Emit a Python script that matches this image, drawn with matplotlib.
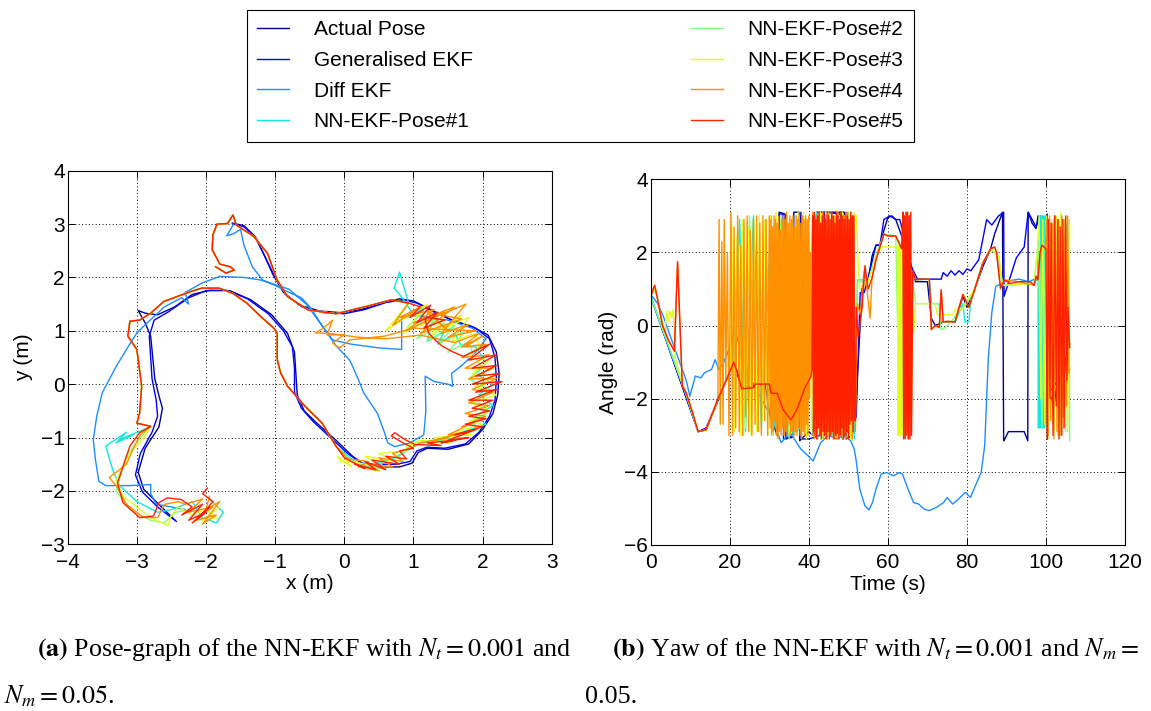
import numpy as np
import matplotlib
matplotlib.use("Agg")
import matplotlib.pyplot as plt

plt.rcParams["font.family"] = ["Liberation Sans", "DejaVu Sans"]
plt.rcParams["mathtext.fontset"] = "stix"

LABELS = ["Actual Pose", "Generalised EKF", "Diff EKF", "NN-EKF-Pose#1",
          "NN-EKF-Pose#2", "NN-EKF-Pose#3", "NN-EKF-Pose#4", "NN-EKF-Pose#5"]
COLORS = ["#000090", "#0000ff", "#1e8cff", "#10e8e0",
          "#80ff80", "#e0ff20", "#ff9000", "#ff2000"]

# ---------------- (a) pose graph, x/y in metres ----------------
ACTUAL_XY = [(-1.62, 3.02), (-1.45, 2.97), (-1.3, 2.78), (-1.17, 2.45), (-1.03, 2.05),
             (-0.88, 1.72), (-0.65, 1.48), (-0.35, 1.37), (-0.05, 1.34), (0.25, 1.4),
             (0.55, 1.52), (0.8, 1.6), (1.0, 1.56), (1.25, 1.4), (1.55, 1.2), (1.85, 1.08),
             (2.08, 0.92), (2.2, 0.6), (2.24, 0.2), (2.22, -0.2), (2.15, -0.55), (2.0, -0.85),
             (1.8, -1.12), (1.5, -1.22), (1.2, -1.2), (1.07, -1.28), (0.98, -1.48), (0.8, -1.55),
             (0.5, -1.55), (0.3, -1.52), (0.12, -1.35), (-0.12, -1.05), (-0.38, -0.75),
             (-0.58, -0.5), (-0.68, -0.2), (-0.7, 0.2), (-0.72, 0.6), (-0.82, 0.95),
             (-1.05, 1.3), (-1.35, 1.58), (-1.65, 1.75), (-1.95, 1.76), (-2.2, 1.68),
             (-2.45, 1.45), (-2.7, 1.3), (-2.88, 1.33), (-2.98, 1.38), (-2.88, 1.15),
             (-2.8, 0.9), (-2.77, 0.5), (-2.74, 0.1), (-2.68, -0.22), (-2.63, -0.45),
             (-2.68, -0.8), (-2.88, -1.2), (-2.98, -1.65), (-2.9, -1.97), (-2.66, -2.28),
             (-2.43, -2.57)]
GEN_XY = [(-1.6, 3.0), (-1.45, 2.95), (-1.28, 2.75), (-1.15, 2.4), (-1.0, 2.0), (-0.85, 1.68),
          (-0.6, 1.44), (-0.3, 1.34), (0.0, 1.32), (0.3, 1.4), (0.6, 1.53), (0.85, 1.58),
          (1.05, 1.52), (1.3, 1.35), (1.6, 1.18), (1.9, 1.05), (2.1, 0.85), (2.18, 0.5),
          (2.2, 0.1), (2.18, -0.3), (2.1, -0.6), (1.95, -0.9), (1.75, -1.12), (1.45, -1.2),
          (1.2, -1.18), (1.05, -1.25), (0.95, -1.45), (0.75, -1.5), (0.45, -1.5), (0.25, -1.48),
          (0.05, -1.3), (-0.2, -1.0), (-0.45, -0.7), (-0.62, -0.45), (-0.72, -0.15),
          (-0.72, 0.3), (-0.75, 0.7), (-0.88, 1.0), (-1.1, 1.32), (-1.4, 1.6), (-1.7, 1.76),
          (-2.0, 1.75), (-2.25, 1.62), (-2.55, 1.35), (-2.75, 1.2), (-2.82, 0.9), (-2.8, 0.5),
          (-2.78, 0.1), (-2.72, -0.3), (-2.7, -0.6), (-2.78, -0.9), (-2.95, -1.3),
          (-3.02, -1.7), (-2.92, -2.02), (-2.7, -2.3), (-2.45, -2.55)]
DIFF_XY = [(-1.6, 3.0), (-1.7, 2.78), (-1.6, 2.82), (-1.5, 2.9), (-1.45, 2.6), (-1.33, 2.2),
           (-1.18, 1.95), (-1.0, 1.85), (-0.8, 1.72), (-0.62, 1.62), (-0.48, 1.42),
           (-0.35, 1.15), (-0.12, 0.72), (0.08, 0.45), (0.2, 0.1), (0.28, -0.16), (0.48, -0.55),
           (0.58, -0.9), (0.63, -1.1), (0.73, -1.17), (0.95, -1.1), (1.15, -0.95), (1.18, -0.5),
           (1.17, 0.15), (1.3, 0.05), (1.5, 0.0), (1.57, -0.04), (1.55, 0.2), (1.7, 0.35),
           (1.9, 0.6), (2.05, 0.85), (1.85, 1.05), (1.5, 1.2), (1.1, 1.28), (0.83, 1.27),
           (0.83, 0.65), (0.5, 0.68), (0.1, 0.75), (-0.17, 0.83), (-0.35, 1.15), (-0.55, 1.5),
           (-0.8, 1.78), (-1.2, 1.95), (-1.45, 2.0), (-1.8, 2.02), (-2.05, 1.9), (-2.3, 1.72),
           (-2.25, 1.5), (-2.35, 1.62), (-2.6, 1.45), (-2.85, 1.15), (-3.0, 0.96), (-3.15, 0.65),
           (-3.3, 0.33), (-3.5, -0.16), (-3.58, -0.6), (-3.63, -1.04), (-3.6, -1.4),
           (-3.55, -1.82), (-3.45, -1.9), (-3.1, -1.9), (-2.8, -1.88), (-2.8, -2.05),
           (-2.72, -2.25), (-2.5, -2.3), (-2.3, -2.35)]

# shared NN-EKF stretches
NN_TOP = [(-1.86, 2.2), (-1.71, 2.08), (-1.59, 2.14), (-1.65, 2.2), (-1.8, 2.25), (-1.91, 2.52),
          (-1.9, 2.8), (-1.84, 3.0), (-1.69, 3.01), (-1.61, 3.17), (-1.56, 2.98), (-1.31, 2.77),
          (-1.11, 2.45), (-0.97, 1.95), (-0.82, 1.64), (-0.52, 1.39), (-0.12, 1.32),
          (0.33, 1.46), (0.68, 1.58), (0.93, 1.52)]
NN_MID = [(-0.12, -1.16), (-0.32, -0.73), (-0.57, -0.41), (-0.82, -0.04), (-0.92, 0.21),
          (-0.97, 0.46), (-0.97, 0.96), (-1.02, 1.05), (-1.21, 1.27), (-1.41, 1.52),
          (-1.61, 1.7), (-1.81, 1.8), (-2.06, 1.8), (-2.21, 1.74), (-2.36, 1.67), (-2.61, 1.55),
          (-2.8, 1.33), (-2.96, 1.2), (-3.1, 1.18), (-3.13, 0.9), (-3.0, 0.65), (-2.93, -0.04),
          (-2.96, -0.54), (-3.0, -0.73), (-2.8, -0.79)]

# NN-EKF-Pose#5 (red)
R1_5 = [(1.1, 1.45), (0.95, 1.25), (1.25, 1.48), (1.05, 1.15), (1.35, 1.35), (1.15, 1.05),
        (1.45, 1.2), (1.2, 1.25), (1.17, 1.2), (1.22, 0.96), (1.32, 0.82), (1.42, 0.71),
        (1.58, 0.6), (1.72, 0.52)]
R2_5 = [(2.1, 0.75), (1.8, 0.45), (2.2, 0.55), (1.85, 0.3), (2.2, 0.35), (1.9, 0.15), (2.25, 0.2),
        (1.85, 0.0), (2.28, 0.05), (1.9, -0.15), (2.2, -0.1), (1.8, -0.3), (2.15, -0.3),
        (1.85, -0.45), (2.1, -0.5), (1.8, -0.6), (2.05, -0.65), (1.75, -0.75), (2.0, -0.8),
        (1.6, -0.95), (1.9, -0.85), (1.5, -1.05), (1.8, -1.0), (1.4, -1.1), (1.6, -1.05),
        (1.2, -1.1), (1.4, -1.15), (1.02, -1.13), (0.88, -1.04), (0.73, -0.91), (0.68, -0.97),
        (0.85, -1.1)]
R3_5 = [(1.0, -1.2), (0.8, -1.25), (0.9, -1.4), (0.6, -1.35), (0.8, -1.5), (0.4, -1.42),
        (0.6, -1.6), (0.3, -1.45), (0.45, -1.6), (0.15, -1.5), (0.3, -1.58), (0.0, -1.38)]
LB_5 = [(-2.96, -0.91), (-3.1, -1.16), (-3.2, -1.54), (-3.28, -1.85), (-3.2, -2.22),
        (-2.96, -2.5), (-2.76, -2.47), (-2.68, -2.22), (-2.56, -2.13), (-2.36, -2.16)]
R4_5 = [(-2.2, -2.3), (-2.35, -2.45), (-2.05, -2.25), (-2.25, -2.55), (-2.0, -2.4), (-2.2, -2.6),
        (-1.95, -2.3), (-2.1, -2.5), (-1.9, -2.2), (-2.05, -2.05), (-1.98, -1.95)]

# NN-EKF-Pose#4 (orange)
R1_4 = [(0.7, 1.1), (1.1, 1.45), (0.8, 1.25), (1.3, 1.4), (0.9, 1.0), (1.45, 1.35), (1.0, 1.15),
        (1.6, 1.45), (1.1, 0.95), (1.7, 1.22), (1.2, 1.35), (1.5, 1.0), (1.3, 1.25), (1.76, 1.5),
        (1.4, 0.95), (1.8, 1.12), (1.5, 0.88), (1.9, 1.0), (1.0, 1.05), (0.58, 0.9), (0.08, 0.83),
        (-0.07, 0.68), (-0.17, 0.77), (0.0, 0.93), (-0.25, 0.92), (-0.17, 1.2), (-0.3, 1.05),
        (-0.42, 0.96), (-0.2, 0.95), (0.2, 0.88), (0.6, 0.85), (1.1, 0.92), (1.6, 0.78),
        (1.95, 0.95), (1.7, 0.7), (2.0, 0.9)]
R2_4 = [(1.75, 0.7), (2.05, 0.75), (1.7, 0.5), (2.1, 0.55), (1.75, 0.3), (2.15, 0.3), (1.8, 0.1),
        (2.2, 0.1), (1.85, -0.1), (2.15, -0.15), (1.8, -0.35), (2.1, -0.4), (1.75, -0.55),
        (2.05, -0.6), (1.7, -0.8), (1.9, -0.7), (1.5, -0.95), (1.75, -0.9), (1.3, -1.05),
        (1.5, -1.0), (1.1, -1.1), (0.95, -1.2)]
R3_4 = [(0.7, -1.3), (0.85, -1.45), (0.5, -1.38), (0.7, -1.55), (0.35, -1.5), (0.5, -1.62),
        (0.2, -1.55), (0.35, -1.45), (0.05, -1.4)]
LB_4 = [(-2.95, -0.95), (-3.05, -1.2), (-3.15, -1.5), (-3.4, -1.75), (-3.3, -1.9),
        (-3.15, -2.25), (-2.9, -2.5), (-2.7, -2.5), (-2.6, -2.25), (-2.4, -2.2)]
R4_4 = [(-2.3, -2.25), (-2.05, -2.15), (-2.25, -2.4), (-1.9, -2.3), (-2.15, -2.55),
        (-1.85, -2.45), (-2.05, -2.62), (-1.8, -2.2), (-2.0, -2.35), (-1.95, -2.1)]

# NN-EKF-Pose#3 (yellow)
R1_3 = [(0.6, 1.0), (1.0, 1.35), (0.75, 1.15), (1.2, 1.5), (0.85, 0.95), (1.35, 1.3), (1.1, 1.1),
        (1.5, 1.4), (1.25, 0.9), (1.7, 1.3), (1.45, 1.05), (1.8, 1.25), (1.55, 0.8), (1.9, 0.95)]
R2_3 = [(1.95, 0.7), (1.8, 0.5), (2.1, 0.45), (1.85, 0.2), (2.15, 0.15), (1.9, -0.05),
        (2.2, -0.2), (1.85, -0.35), (2.1, -0.5), (1.8, -0.7), (2.0, -0.75), (1.6, -0.9),
        (1.85, -0.95), (1.3, -1.0), (1.55, -1.1), (1.1, -1.05), (0.9, -1.15)]
R3_3 = [(0.9, -1.25), (0.5, -1.3), (0.75, -1.45), (0.3, -1.35), (0.55, -1.55), (0.1, -1.45),
        (-0.05, -1.45), (-0.1, -1.35), (0.1, -1.55)]
LB_3 = [(-2.9, -1.0), (-3.1, -1.3), (-3.3, -1.8), (-3.2, -2.1), (-3.0, -2.3), (-2.8, -2.5),
        (-2.55, -2.65), (-2.5, -2.45), (-2.4, -2.3)]
R4_3 = [(-2.2, -2.45), (-2.0, -2.35), (-1.85, -2.5), (-2.05, -2.55), (-1.8, -2.3)]

# NN-EKF-Pose#2 (green)
R1_2 = [(0.75, 1.2), (1.1, 1.3), (0.9, 1.05), (1.3, 1.2), (1.05, 0.85), (1.45, 1.15), (1.2, 0.8),
        (1.6, 1.1), (1.35, 0.75), (1.75, 1.0), (1.5, 0.6), (1.8, 0.8)]
R2_2 = [(1.85, 0.6), (2.0, 0.3), (1.8, 0.1), (2.1, -0.1), (1.9, -0.3), (2.1, -0.5), (1.85, -0.7),
        (1.95, -0.85), (1.6, -0.95), (1.7, -1.0), (1.3, -1.05), (1.0, -1.1)]
R3_2 = [(0.8, -1.35), (0.5, -1.45), (0.6, -1.6), (0.3, -1.5), (0.45, -1.62), (0.1, -1.45)]
LB_2 = [(-2.95, -1.0), (-3.15, -1.35), (-3.3, -2.0), (-3.1, -2.35), (-2.8, -2.55),
        (-2.6, -2.6), (-2.45, -2.4)]
R4_2 = [(-2.2, -2.35), (-2.1, -2.55), (-1.9, -2.45)]

# NN-EKF-Pose#1 (cyan)
R1_1 = [(0.8, 2.1), (0.72, 1.8), (0.85, 1.6), (1.0, 1.3), (1.15, 1.45), (1.1, 1.1), (1.3, 1.3),
        (1.2, 0.8), (1.45, 1.0), (1.35, 0.75), (1.6, 0.95), (1.7, 0.7)]
R2_1 = [(1.9, 0.7), (2.05, 0.4), (1.9, 0.2), (2.15, 0.0), (1.95, -0.2), (2.15, -0.4), (1.9, -0.6),
        (2.05, -0.75), (1.7, -0.9), (1.4, -1.05), (1.1, -1.1)]
R3_1 = [(0.7, -1.4), (0.4, -1.5), (0.55, -1.58), (0.2, -1.5)]
LB_1 = [(-2.9, -0.85), (-3.25, -1.04), (-3.05, -0.95), (-3.3, -1.1), (-3.15, -0.9),
        (-3.45, -1.16), (-3.35, -1.6), (-3.25, -1.9), (-3.0, -2.2), (-2.7, -2.4), (-2.5, -2.35)]
R4_1 = [(-2.2, -2.2), (-2.05, -2.5), (-1.85, -2.6), (-1.75, -2.4), (-1.95, -2.15)]

NN_XY = [NN_TOP + R1_1 + R2_1 + R3_1 + NN_MID + LB_1 + R4_1,
         NN_TOP + R1_2 + R2_2 + R3_2 + NN_MID + LB_2 + R4_2,
         NN_TOP + R1_3 + R2_3 + R3_3 + NN_MID + LB_3 + R4_3,
         NN_TOP + R1_4 + R2_4 + R3_4 + NN_MID + LB_4 + R4_4,
         NN_TOP + R1_5 + R2_5 + R3_5 + NN_MID + LB_5 + R4_5]

# ---------------- (b) yaw vs time ----------------
ACT_T = [0, 12, 14, 21, 22, 23, 29, 30, 32, 32.5, 34, 34.2, 36, 36.2, 37.5, 37.7, 40, 41, 42, 49,
         49.5, 51, 52, 53.5, 55, 56, 57, 58, 59, 60, 61, 62, 63, 64, 66, 67, 70, 71, 72, 74, 77,
         79, 80, 82, 84, 86, 87, 89, 89.3, 89.6, 90.5, 94.5, 95.4, 95.5, 96.5, 97.5, 98, 99,
         100.3, 100.4, 101, 102, 103, 104, 105, 106]
ACT_Y = [0.8, -2.9, -2.85, -1.0, -1.3, -1.7, -1.6, -2.4, -3.0, 3.1, 3.05, -3.1, -3.05, 3.1, 3.1,
         -3.15, -2.9, -3.0, 3.1, 3.1, -3.1, -3.0, -2.0, 1.07, 1.2, 1.9, 2.2, 2.2, 2.6, 2.95, 3.0,
         2.9, 2.6, 2.3, 1.6, 1.2, 1.2, 0.2, 0.0, 0.1, 0.1, 0.8, 0.5, 1.0, 1.6, 2.1, 2.5, 3.1,
         -3.15, -3.1, -2.9, -2.9, -3.15, 3.1, 2.8, 2.65, 3.0, 2.7, 3.05, -3.1, -1.85, -2.2, -1.5,
         -2.0, -1.0, -0.5]
GEN_T = [0, 12, 14, 21, 23, 30, 31, 32, 32.5, 33.5, 33.6, 36, 38, 38.1, 40, 43, 44, 48, 48.5, 52,
         53, 54, 55, 57, 58, 59, 60.5, 62, 63, 64, 66, 67.5, 73.5, 74, 75, 76, 77, 78, 79, 80, 81,
         83, 85, 86.3, 87, 88, 89.3, 89.4, 90, 92.5, 94.5, 95.5, 96.5, 97.5, 98.5, 99.5, 100.3,
         100.5, 101, 103, 106]
GEN_Y = [0.8, -2.9, -2.8, -1.0, -1.7, -1.6, -2.5, -3.0, 3.05, 3.05, -3.1, -3.0, 3.1, -3.1, -3.1,
         -3.0, 3.1, 3.05, -3.1, -2.5, 0.9, 0.9, 1.3, 2.2, 2.2, 2.9, 3.0, 2.9, 2.9, 2.5, 1.6, 1.27,
         1.27, 1.45, 1.35, 1.5, 1.38, 1.5, 1.4, 1.55, 1.5, 1.8, 2.9, 2.75, 2.85, 3.0, 3.1, 0.8,
         1.0, 1.85, 2.15, 3.1, 2.9, 2.7, 3.0, 2.9, 3.0, -3.0, -1.8, -1.5, -0.6]
DIFF_T = [0, 1.8, 3.2, 5, 7, 9, 9.9, 11.3, 12.7, 13.6, 15.4, 16.3, 17.2, 18.5, 20, 21.2, 23, 25,
          27, 29, 31.2, 33, 35.3, 38, 39.8, 41.1, 43, 45, 47, 49, 50.6, 51.5, 52, 52.9, 54.2,
          55.2, 56.1, 57, 58.3, 59.7, 61.5, 62.8, 63.7, 65.1, 66.5, 67.8, 69.2, 70.5, 72.3, 74.1,
          75, 76.4, 77.8, 79.6, 80.9, 82.3, 83.6, 84.5, 85.4, 86.3, 87.3, 89.5, 93.1, 95.8, 97.6,
          98.5]
DIFF_Y = [0.85, 0.6, 0.25, -0.3, -0.9, -1.5, -1.93, -1.38, -1.43, -1.29, -1.2, -0.93, -1.2, -1.0,
          -0.6, -0.06, -0.8, -1.4, -1.8, -2.2, -2.65, -3.2, -2.93, -3.38, -3.56, -3.7, -3.2, -3.0,
          -3.1, -3.0, -3.15, -3.38, -3.7, -4.47, -4.93, -5.04, -4.84, -4.47, -4.06, -4.02, -4.11,
          -4.02, -4.06, -4.47, -4.84, -4.88, -5.02, -5.06, -4.97, -4.84, -4.7, -4.88, -4.75,
          -4.56, -4.7, -4.34, -4.02, -3.29, -0.93, 0.35, 1.07, 1.2, 1.27, 1.2, 1.3, 1.25]

# NN-EKF-Pose#5 yaw (red)
RED_T = [0, 1, 1.6, 3, 4.5, 6, 6.8, 8, 9, 10.5, 12, 14, 17, 19.5, 21, 22, 23, 26, 26.5, 30, 30.5,
         32, 33.5, 35.5, 37, 39, 40.5]
RED_Y = [0.8, 1.1, 0.8, 0.0, -0.4, -0.7, 1.75, -1.65, -1.85, -2.35, -2.9, -2.85, -2.0, -1.4,
         -1.0, -1.3, -1.73, -1.7, -1.6, -1.6, -1.85, -1.85, -2.3, -2.58, -2.3, -1.7, -1.4]
RED_DENSE_T = [40.8, 41.0, 41.2, 41.4, 41.6, 41.8, 42.0, 42.2, 42.4, 42.6, 42.8, 43.0, 43.2, 43.4,
               43.6, 43.8, 44.0, 44.2, 44.4, 44.6, 44.8, 45.0, 45.2, 45.4, 45.6, 45.8, 46.0,
               46.2, 46.4, 46.6, 46.8, 47.0, 47.2, 47.4, 47.6, 47.8, 48.0, 48.2, 48.4, 48.6,
               48.8, 49.0, 49.2, 49.4, 49.6, 49.8, 50.0, 50.2, 50.4, 50.6, 50.8, 51.0, 51.2,
               51.4, 51.6]
RED_DENSE_Y = [-1.2, 3.0, -2.9, 3.1, -3.0, 2.9, -3.1, 3.0, -2.8, 3.1,
               -3.0, 2.8, -3.1, 3.0, -2.9, 3.1, -3.0, 2.9, -3.1, 3.05,
               -2.9, 3.0, -3.1, 2.9, -3.0, 3.1, -2.9, 3.0, -3.1, 2.8,
               -3.0, 3.1, -2.95, 3.0, -3.1, 2.9, -3.0, 3.1, -2.8, 3.0,
               -3.1, 2.9, -3.0, 3.1, -2.9, 3.0, -3.1, 2.9, -2.7, 3.1,
               -2.6, 3.0, -2.9, 3.0, -2.6]
RED2_T = [51.8, 52.0, 52.5, 53.5, 54.2, 55, 56, 57, 59, 60, 62, 63.5,
          63.8, 64.0, 64.2, 64.4, 64.6, 64.8, 65.0, 65.2, 65.4, 65.6, 65.8, 66.0,
          66.3, 67, 68, 70.5, 71, 72, 73, 73.5, 74, 75, 77, 78, 79, 80.5, 82, 84, 86, 87, 87.5,
          88.5, 89.5, 91, 93, 96, 97, 97.5, 98, 98.5, 99, 100,
          100.3, 100.6, 101, 101.3, 101.8, 102.2, 102.6, 103, 103.3, 103.6, 104, 104.3, 104.6,
          105, 105.3, 105.6, 106]
RED2_Y = [-2.6, 0.5, -0.3, 0.5, 1.64, 1.0, 1.3, 1.8, 2.5, 2.45, 2.45, 2.1,
          3.1, -3.1, 3.0, -3.1, 3.1, -3.0, 3.1, -3.1, 3.0, -3.1, 3.1, -3.0,
          1.5, 1.25, 1.27, 1.27, -0.11, 0.0, -0.05, 0.98, 0.1, 0.12, 0.1, 0.5, 0.85, 0.5, 1.0,
          1.7, 2.1, 2.15, 2.0, 1.03, 1.25, 1.15, 1.2, 1.2, 1.1, 1.35, 1.25, 2.0, 2.2, 2.1,
          -3.1, 2.9, -2.0, 2.8, -3.0, 3.0, -2.2, 2.9, -3.1, 2.7, -3.0, 2.9, -2.8, 3.0, -1.5, 0.5,
          -0.6]

# NN-EKF-Pose#4 yaw (orange)
ORA_T = [0, 1, 1.6, 3, 4.5, 6, 6.8, 8, 9, 10.5, 12, 14, 16.5,
         17.0, 17.3, 17.6, 18.0, 18.3, 18.6, 19.0, 19.4, 19.8, 20.3, 20.7, 21.1, 21.5, 22.0,
         22.4, 22.8, 23.2, 23.6, 24.0, 24.4, 24.8, 25.2, 25.6, 26.0, 26.4, 26.8, 27.2, 27.6,
         28.0, 28.4, 28.8, 29.2, 29.6]
ORA_Y = [0.8, 1.1, 0.8, 0.0, -0.4, -0.7, 1.7, -1.65, -1.85, -2.35, -2.9, -2.85, -2.2,
         -2.0, 2.9, -2.7, 2.3, -2.7, 2.9, -1.5, 2.0, -3.0, 3.1, -3.0, 2.7, -2.8, 3.0, -2.9, 2.2,
         -3.0, 2.9, -2.5, 3.0, -2.9, 2.6, -3.0, 2.9, -2.7, 3.0, -2.9, 2.8, -3.0, 3.0, -2.6, 2.9,
         -3.0]
ORA_DENSE_T = [30.0, 30.2, 30.4, 30.6, 30.8, 31.0, 31.2, 31.4, 31.6, 31.8, 32.0, 32.2, 32.4,
               32.6, 32.8, 33.0, 33.2, 33.4, 33.6, 33.8, 34.0, 34.2, 34.4, 34.6, 34.8, 35.0,
               35.2, 35.4, 35.6, 35.8, 36.0, 36.2, 36.4, 36.6, 36.8, 37.0, 37.2, 37.4, 37.6,
               37.8, 38.0, 38.2, 38.4, 38.6, 38.8, 39.0, 39.2, 39.4, 39.6, 39.8, 40.0, 40.2,
               40.4, 40.6]
ORA_DENSE_Y = [3.0, -2.8, 2.9, -3.0, 2.7, -2.9, 3.0, -2.6, 2.9, -3.0,
               2.8, -3.1, 3.0, -2.9, 2.6, -3.0, 2.9, -2.8, 3.0, -3.0,
               2.9, -2.9, 3.1, -3.0, 2.8, -2.7, 3.0, -3.0, 2.9, -2.9,
               3.0, -3.1, 2.7, -2.9, 3.0, -3.0, 2.9, -2.8, 3.0, -3.0,
               2.8, -3.1, 3.0, -2.9, 2.9, -3.0, 3.0, -2.7, 2.9, -3.0,
               3.0, -2.0, 2.0, -1.4]
ORA2_T = [41.0, 41.4, 41.8, 42.2, 42.6, 43.0, 43.4, 43.8, 44.2, 44.6, 45.0, 45.4, 45.8, 46.2,
          46.6, 47.0, 47.4, 47.8, 48.2, 48.6, 49.0, 49.4, 49.8, 50.2, 50.6, 51.0, 51.4,
          51.8, 52.3, 53, 54, 54.5, 55.5, 56, 57, 59, 60, 62, 63.5,
          63.9, 64.3, 64.7, 65.1, 65.5, 65.9,
          66.3, 67, 70.5, 71, 72, 73, 73.5, 74, 77, 79, 80.5, 82, 84, 86, 87, 87.5, 88.5, 89.5,
          93, 97, 97.5, 98, 98.5, 99, 99.8,
          100.2, 100.5, 100.9, 101.2, 101.6, 102.0, 102.4, 102.8, 103.2, 103.6, 104.0, 104.4,
          104.8, 105.2, 105.5, 105.8, 106]
ORA2_Y = [3.1, -3.1, 3.0, -3.1, 3.1, -3.0, 3.1, -3.1, 3.0, -3.1, 3.1, -3.0, 3.1, -3.1, 3.0,
          -3.1, 3.1, -3.0, 3.1, -3.1, 3.0, -3.1, 3.1, -3.0, 3.1, -3.1, 3.0,
          -2.9, 0.6, 0.3, 1.5, 1.2, 0.2, 1.3, 1.8, 2.5, 2.45, 2.45, 2.1,
          3.1, -3.0, 3.1, -3.1, 3.0, -3.0,
          1.5, 1.25, 1.27, -0.1, 0.0, -0.05, 0.95, 0.1, 0.1, 0.85, 0.5, 1.0, 1.7, 2.1, 2.15, 2.0,
          1.0, 1.25, 1.2, 1.1, 1.35, 1.25, 2.0, 2.2, 2.1,
          2.9, -3.0, 3.0, -2.6, 2.8, -3.1, 3.0, -2.9, 2.9, -3.0, 3.0, -2.5, 2.9, -2.2, 3.0, -1.3,
          -1.2]

# NN-EKF-Pose#3 yaw (yellow)
YEL_T = [0, 1, 1.6, 3, 3.6, 4.0, 4.4, 4.8, 5.3, 5.7, 6.2, 8, 9, 12, 14, 17, 19.5, 20.2,
         20.5, 21.2, 21.9, 22.6, 23.3, 24.0, 24.7, 25.4, 26.1, 26.8, 27.5, 28.2, 28.9, 29.6,
         30.3, 31.0, 31.7, 32.4, 33.1, 33.8, 34.5, 35.2, 35.9, 36.6, 37.3, 38.0, 38.7, 39.4,
         40.1, 40.8, 41.5, 42.2, 42.9, 43.6, 44.3, 45.0, 45.7, 46.4, 47.1, 47.8, 48.5, 49.2,
         49.9, 50.6, 51.3, 52.0,
         52.8, 55, 57, 58.5, 62.4,
         62.6, 62.75, 62.9, 63.05, 63.2, 63.35, 63.5, 63.65, 63.8, 63.95, 64.1, 64.25, 64.4,
         65, 65.8, 66.5, 67, 72, 72.5, 76.5, 77, 79, 80, 82, 84, 86, 88, 89, 97, 97.8,
         98.3, 98.7, 99.2, 99.7, 100.2, 100.8, 101.4, 102.0, 102.6, 103.2, 103.8, 104.4, 105.0,
         105.5, 106]
YEL_Y = [0.8, 1.0, 0.8, 0.0, -0.2, 0.4, 0.1, 0.4, 0.2, 0.45, -0.9, -1.6, -1.85, -2.9, -2.85,
         -2.0, -1.4, -1.1,
         2.8, -2.9, 2.5, -3.0, 2.9, -2.8, 2.7, -3.0, 2.9, -2.9, 3.0, -2.6, 2.9, -3.0, 3.0, -2.9,
         3.1, -2.8, 2.9, -3.0, 3.0, -2.9, 2.8, -3.0, 3.1, -2.9, 3.1, -3.1, 2.9, -3.0, 3.1, -2.9,
         3.1, -3.1, 3.15, -3.0, 3.1, -3.1, 3.15, -2.9, 3.1, -3.0, 3.1, -3.1, 3.1, 3.0,
         1.0, 1.2, 1.9, 2.15, 2.15,
         -3.0, 2.2, -2.9, 2.1, -3.0, 2.2, -2.8, 2.2, -3.0, 2.1, -2.6, 2.2, -1.0,
         2.0, 1.4, -0.2, 0.6, 0.6, 0.3, 0.3, 0.45, 0.45, 0.7, 1.0, 1.7, 2.1, 1.9, 1.1, 1.15, 2.0,
         3.0, -2.0, 2.9, -2.7, 3.0, -3.1, 2.9, -2.9, 3.0, -3.0, 3.1, -2.8, 3.0, -2.9, 2.8]

# NN-EKF-Pose#2 yaw (green)
GRN_T = [0, 3, 6, 9, 12, 14, 17, 19.5, 21, 22, 23.5, 25, 27, 29, 31, 33, 35, 37, 39, 41, 43, 45,
         47, 49, 51, 52.3, 53, 55, 57, 59, 62, 63, 64, 65, 66, 67, 68, 73, 73.3, 74, 76, 78, 80,
         82, 84, 86, 88, 89, 97, 98, 99, 100, 101, 102, 103, 104, 105, 105.9, 106]
GRN_Y = [0.8, -0.1, -1.0, -1.9, -2.9, -2.85, -2.0, -1.4, -1.0, 2.6, -3.0, 3.0, -2.9, 2.9, -3.0,
         3.0, -3.1, 2.8, -2.8, 3.1, -3.1, 3.1, -3.1, 3.0, -3.15, 1.2, 1.2, 1.2, 1.9, 2.5, 2.45,
         -2.9, 2.2, -2.5, 1.5, 0.6, 0.6, 0.6, -0.1, -0.1, 0.1, 0.4, 0.6, 1.0, 1.7, 2.1, 1.9, 1.1,
         1.15, 2.2, -2.8, 3.0, -2.5, 2.9, -3.0, 3.0, -2.9, 2.9, -3.15]

# NN-EKF-Pose#1 yaw (cyan)
CYA_T = [0, 3, 6, 9, 12, 14, 17, 19.5, 21, 22.5, 24, 26, 28, 30.5, 31.5, 33, 36, 39.5, 42, 46,
         50, 51.5, 52.3, 53.8, 55, 57, 59, 62, 63.5, 66, 67, 70.5, 71, 73, 73.5, 77, 79, 79.5,
         80.5, 81, 84, 86, 88, 89, 97, 97.9,
         98.0, 98.1, 98.2, 98.3, 98.4, 98.5, 98.6, 98.7, 98.8, 98.9, 99.0, 99.1, 99.2, 99.3,
         99.4, 99.5, 99.6, 99.7, 99.8, 99.9, 100.0, 101, 102, 103.5, 105, 106]
CYA_Y = [0.8, -0.1, -1.0, -1.9, -2.9, -2.85, -2.0, -1.4, -1.0, 2.9, -2.9, 3.0, -2.8, 3.0, -2.8,
         2.9, -3.0, -2.6, 3.1, -3.0, 3.1, -3.1, 1.25, 1.25, 1.2, 1.9, 2.5, 2.45, 2.1, 1.5, 1.25,
         1.27, 0.6, 0.6, 0.1, 0.1, 0.6, 0.1, 0.1, 0.7, 1.7, 2.1, 1.9, 1.1, 1.15, 1.3,
         2.2, -2.8, 2.9, -2.5, 3.0, -2.8, 2.8, -2.6, 3.0, -2.7, 2.9, -2.8, 3.0, -2.4, 2.9, -2.8,
         3.0, -2.6, 2.8, -2.7, 2.0, -2.0, 2.9, -2.5, 2.8, 1.0]

YAW_SERIES = [(ACT_T, ACT_Y), (GEN_T, GEN_Y), (DIFF_T, DIFF_Y),
              (CYA_T, CYA_Y), (GRN_T, GRN_Y), (YEL_T, YEL_Y),
              (ORA_T + ORA_DENSE_T + ORA2_T, ORA_Y + ORA_DENSE_Y + ORA2_Y),
              (RED_T + RED_DENSE_T + RED2_T, RED_Y + RED_DENSE_Y + RED2_Y)]

# ---------------- figure ----------------
W, H = 1151, 711
fig = plt.figure(figsize=(W / 100, H / 100), dpi=100)
ax1 = fig.add_axes([67.7 / W, 1 - 544.3 / H, 484.0 / W, 373.6 / H])
ax2 = fig.add_axes([650.7 / W, 1 - 545.0 / H, 474.3 / W, 365.7 / H])

lw = 1.0
handles = []
for xy, c, lab in zip([ACTUAL_XY, GEN_XY, DIFF_XY] + NN_XY, COLORS, LABELS):
    a = np.array(xy)
    h, = ax1.plot(a[:, 0], a[:, 1], color=c, lw=lw, label=lab)
    handles.append(h)
for (t, y), c in zip(YAW_SERIES, COLORS):
    ax2.plot(t, y, color=c, lw=lw)

for ax in (ax1, ax2):
    ax.grid(True, color="black", ls=(0, (1, 2.5)), lw=0.7)
    ax.tick_params(direction="in", top=True, right=True, length=5, labelsize=15,
                   width=0.7)
    ax.tick_params(axis="y", pad=2)
    ax.tick_params(axis="x", pad=6)
    for s in ax.spines.values():
        s.set_linewidth(0.8)

ax1.set_xlim(-4, 3)
ax1.set_ylim(-3, 4)
ax1.set_xticks(range(-4, 4))
ax1.set_yticks(range(-3, 5))
ax1.set_xlabel("x (m)", fontsize=15, labelpad=2)
ax1.set_ylabel("y (m)", fontsize=15, labelpad=6)

ax2.set_xlim(0, 120)
ax2.set_ylim(-6, 4)
ax2.set_xticks(range(0, 121, 20))
ax2.set_yticks(range(-6, 5, 2))
ax2.set_xlabel("Time (s)", fontsize=15, labelpad=2)
ax2.set_ylabel("Angle (rad)", fontsize=15, labelpad=4)

leg = fig.legend(handles, LABELS, ncol=2, loc="upper center",
                 bbox_to_anchor=(580.5 / W, 1 - 10 / H), fontsize=15,
                 frameon=True, fancybox=False, framealpha=1, edgecolor="black",
                 handlelength=1.5, handletextpad=1.2, columnspacing=10.5,
                 labelspacing=0.56, borderpad=0.5, borderaxespad=0)
leg.get_frame().set_linewidth(0.8)

cap = dict(fontsize=18.7, family=["Liberation Serif", "DejaVu Serif"], va="baseline")
fig.text(37 / W, 1 - 656 / H,
         r"$\mathbf{(a)}$ Pose-graph of the NN-EKF with $N_t = 0.001$ and", **cap)
fig.text(4 / W, 1 - 703 / H, r"$N_m = 0.05$.", **cap)
fig.text(612 / W, 1 - 656 / H,
         r"$\mathbf{(b)}$ Yaw of the NN-EKF with $N_t = 0.001$ and $N_m =$", **cap)
fig.text(585 / W, 1 - 703 / H, r"0.05.", **cap)

fig.savefig("out.png", dpi=100)
